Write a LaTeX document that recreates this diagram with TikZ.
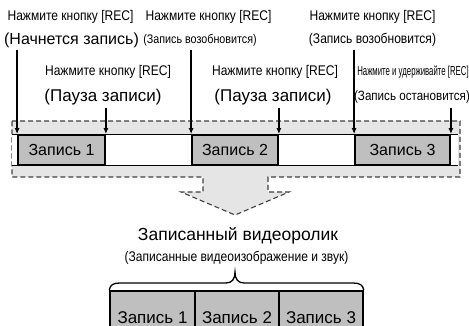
\documentclass[tikz,border=0pt]{standalone}
\usepackage{fontspec}
\setmainfont{Liberation Sans}
\newfontfamily\condfont[FakeStretch=0.86]{Liberation Sans}
\newfontfamily\narrowfont[FakeStretch=0.6]{Liberation Sans}
\usetikzlibrary{arrows.meta}

\tikzset{
  key/.style={font=\condfont\fontsize{14}{16}\selectfont, inner sep=0pt},
  keysmall/.style={font=\condfont\fontsize{12.5}{14}\selectfont, inner sep=0pt},
  keytiny/.style={font=\narrowfont\fontsize{13}{15}\selectfont, inner sep=0pt},
  state/.style={font=\fontsize{16}{18}\selectfont, inner sep=0pt},
  rec/.style={draw=black, line width=1.8pt, fill=gray!50, minimum height=30pt,
    inner sep=0pt, font=\fontsize{16}{18}\selectfont},
  vidbox/.style={draw=black, line width=1.5pt, fill=gray!50, minimum height=54pt,
    inner sep=0pt, font=\fontsize{17}{19}\selectfont},
  press/.style={line width=1.8pt, -{Latex[length=6pt,width=5pt]}},
}

\begin{document}
\begin{tikzpicture}[x=1pt, y=-1pt]
  \useasboundingbox (0,0) rectangle (469,326);
  \path[clip] (0,0) rectangle (469,326);

  % Gray dashed area with the arrow down
  \draw[dash pattern=on 5pt off 3pt, line width=1.1pt, draw=black!75, fill=gray!20]
    (12,121) -- (460,121) -- (460,177) -- (268,177) -- (268,192) -- (289,192)
    -- (235,215) -- (181,192) -- (203,192) -- (203,177) -- (12,177) -- cycle;

  % Recording strip
  \node[fill=white, minimum width=446pt, minimum height=30pt, inner sep=0pt] (strip) at (235,150) {};
  \draw[line width=0.8pt] (strip.north west) -- (strip.north east);
  \draw[line width=0.8pt] (strip.south west) -- (strip.south east);

  \node[rec, minimum width=87pt] (rec1) at (61.5,150) {Запись 1};
  \node[rec, minimum width=86pt] (rec2) at (235,150) {Запись 2};
  \node[rec, minimum width=95pt] (rec3) at (402.5,150) {Запись 3};

  % Button labels
  \node[key] (k1) at (70.5,17) {Нажмите кнопку [REC]};
  \node[state] (s1) at (71.5,40) {(Начнется запись)};
  \node[key] (k2) at (208.5,17) {Нажмите кнопку [REC]};
  \node[keysmall] (s2) at (200,40) {(Запись возобновится)};
  \node[key] (k3) at (372.5,17) {Нажмите кнопку [REC]};
  \node[key] (s3) at (372.5,40) {(Запись возобновится)};

  \node[key] (k4) at (108,72) {Нажмите кнопку [REC]};
  \node[state, font=\fontsize{17}{19}\selectfont] (s4) at (103,97) {(Пауза записи)};
  \node[key] (k5) at (275,72) {Нажмите кнопку [REC]};
  \node[state, font=\fontsize{17}{19}\selectfont] (s5) at (273,97) {(Пауза записи)};
  \node[keytiny] (k6) at (413,72) {Нажмите и удерживайте [REC]};
  \node[key, font=\condfont\fontsize{13.5}{15}\selectfont] (s6) at (412,97) {(Запись остановится)};

  % Arrows to the strip
  \coordinate (start) at (0,50);
  \coordinate (pause) at (0,108);
  \draw[press] (rec1.north west |- start) -- (rec1.north west);
  \draw[press] (rec1.north east |- pause) -- (rec1.north east);
  \draw[press] (rec2.north west |- start) -- (rec2.north west);
  \draw[press] (rec2.north east |- pause) -- (rec2.north east);
  \draw[press] (rec3.north west |- start) -- (rec3.north west);
  \draw[press] (rec3.north east |- pause) -- (rec3.north east);

  % Result
  \node[state, font=\fontsize{17.5}{20}\selectfont] (title) at (238,236) {Записанный видеоролик};
  \node[key, font=\condfont\fontsize{14}{16}\selectfont] (subtitle) at (236.5,258) {(Записанные видеоизображение и звук)};

  \node[vidbox, minimum width=85pt] (v1) at (152.5,318) {Запись 1};
  \node[vidbox, minimum width=84pt] (v2) at (237,318) {Запись 2};
  \node[vidbox, minimum width=84pt] (v3) at (321,318) {Запись 3};

  % Brace
  \draw[line width=1.3pt] (v1.north west) .. controls (110,285) and (113,283) .. (120,283)
    -- (226,283) .. controls (232,283) and (235,279) .. (235,272)
    .. controls (235,279) and (238,283) .. (244,283)
    -- (353,283) .. controls (360,283) and (363,285) .. (v3.north east);
\end{tikzpicture}
\end{document}
